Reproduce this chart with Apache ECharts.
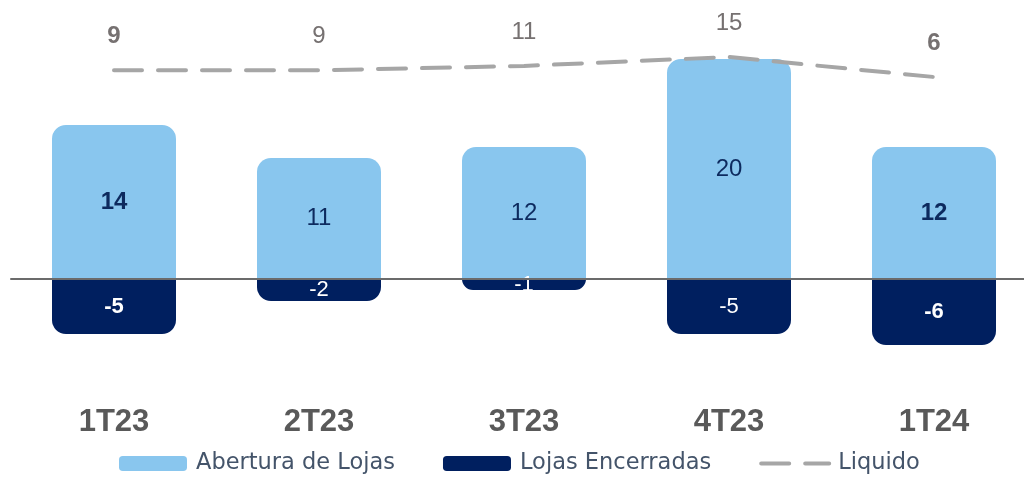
<!DOCTYPE html>
<html>
<head>
<meta charset="utf-8">
<script src="https://cdn.jsdelivr.net/npm/echarts@6/dist/echarts.min.js"></script>
<style>
    html, body { margin: 0; padding: 0; background: #fff; }
    #main { width: 1024px; height: 478px; }
</style>
</head>
<body>
<div id="main"></div>
<script>
var trimestres = ['1T23', '2T23', '3T23', '4T23', '1T24'];
var abertura = [14, 11, 12, 20, 12];
var encerradas = [-5, -2, -1, -5, -6];
var liquido = [9, 9, 11, 15, 6];

// which points get a bold label (first and last in the reference)
var negrito = [0, 4];

var chart = echarts.init(document.getElementById('main'));

// build data items, bold label where needed
function pontos(valores) {
    var res = [];
    for (var i = 0, len = valores.length; i < len; i++) {
        var item = { value: valores[i] };
        if (negrito.indexOf(i) >= 0) {
            item.label = { fontWeight: 'bold' };
        }
        res.push(item);
    }
    return res;
}

var fonte = 'Liberation Sans, Arial, sans-serif';
var barMin = -9.0909, barMax = 24.5455;

var option = {
    animation: false,
    backgroundColor: '#ffffff',
    grid: [
        { left: 114, right: 90, top: 9, bottom: 99 },
        // full width grid, only used for the zero line
        { left: 11, right: 0, top: 9, bottom: 99 }
    ],
    xAxis: [
        {
            type: 'category',
            data: trimestres,
            boundaryGap: false,
            axisLine: { show: false },
            axisTick: { show: false },
            axisLabel: {
                margin: 28,
                fontSize: 31,
                fontWeight: 'bold',
                fontFamily: fonte,
                color: '#595959'
            }
        },
        {
            gridIndex: 1,
            type: 'value',
            z: 10,
            axisLine: { show: true, onZero: true, lineStyle: { color: '#6B6B6B', width: 2 } },
            axisTick: { show: false },
            axisLabel: { show: false },
            splitLine: { show: false }
        }
    ],
    yAxis: [
        { type: 'value', min: barMin, max: barMax, show: false },
        { type: 'value', min: -129.9, max: 36.6, show: false },
        { gridIndex: 1, type: 'value', min: barMin, max: barMax, show: false }
    ],
    legend: {
        left: 119,
        top: 452,
        padding: 0,
        itemWidth: 68,
        itemHeight: 15,
        itemGap: 48,
        textStyle: {
            fontSize: 22.5,
            color: '#44546A',
            fontFamily: 'DejaVu Sans, sans-serif',
            padding: [0, 0, 0, 4]
        },
        data: [
            'Abertura de Lojas',
            'Lojas Encerradas',
            { name: 'Liquido', itemStyle: { opacity: 0 }, lineStyle: { width: 4, cap: 'round' } }
        ]
    },
    series: [
        {
            name: 'Abertura de Lojas',
            type: 'bar',
            stack: 'lojas',
            barWidth: 124,
            data: pontos(abertura),
            itemStyle: { color: '#89C6EE', borderRadius: [14, 14, 0, 0] },
            label: {
                show: true,
                position: 'inside',
                fontSize: 24,
                fontFamily: fonte,
                color: '#0D2A5E'
            }
        },
        {
            name: 'Lojas Encerradas',
            type: 'bar',
            stack: 'lojas',
            barWidth: 124,
            data: pontos(encerradas),
            itemStyle: { color: '#001F5F', borderRadius: [0, 0, 14, 14] },
            label: {
                show: true,
                position: 'inside',
                fontSize: 22,
                fontFamily: fonte,
                color: '#ffffff'
            }
        },
        {
            name: 'Liquido',
            type: 'line',
            yAxisIndex: 1,
            z: 5,
            symbol: 'circle',
            symbolSize: 0,
            data: pontos(liquido),
            lineStyle: { color: '#A6A6A6', width: 4, type: [28, 16], cap: 'round' },
            itemStyle: { color: '#A6A6A6' },
            label: {
                show: true,
                position: 'top',
                distance: 22,
                fontSize: 24,
                fontFamily: fonte,
                color: '#767171'
            }
        }
    ]
};

chart.setOption(option);
</script>
</body>
</html>
